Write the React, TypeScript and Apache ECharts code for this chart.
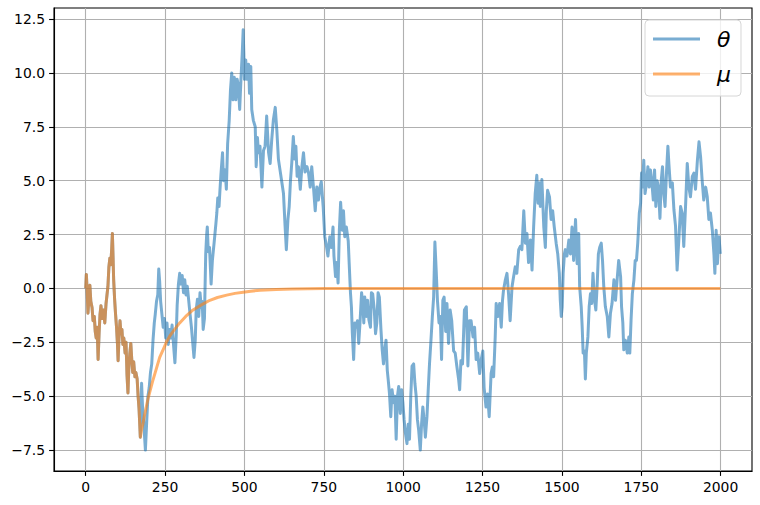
import React, { useEffect, useRef } from "react";
import * as echarts from "echarts";

// θ samples (x = step, y = value)
const thetaX = [
  0, 2, 5, 7, 10, 13, 16, 20, 23, 27, 30, 33, 36, 39, 42, 45, 48, 52, 56, 60, 64, 67, 70, 73, 76, 79, 82, 84, 86, 88, 91, 94, 97, 100, 102, 105, 108, 111, 114, 117, 120, 124, 127, 130, 133, 136, 139, 142, 145, 148, 151, 155, 158, 162, 165, 168, 172,
  176, 179, 183, 188, 192, 196, 200, 204, 208, 212, 216, 219, 223, 227, 230, 233, 236, 240, 244, 248, 252, 256, 260, 264, 268, 272, 276, 281, 285, 288, 292, 296, 300, 304, 308, 312, 316, 320, 324, 328, 333, 337, 341, 345, 348, 352, 356, 360, 364, 367, 370, 374,
  378, 381, 383, 386, 390, 395, 399, 405, 410, 413, 416, 420, 423, 426, 431, 434, 439, 443, 447, 452, 456, 460, 464, 468, 473, 477, 481, 485, 489, 493, 496, 498, 500, 504, 508, 513, 516, 520, 523, 528, 534, 537, 541, 544, 549, 555, 560, 565, 570, 576, 581, 586, 591, 597, 602, 607, 612, 618, 623, 628, 632, 637, 641, 645, 649, 654, 658, 662, 666, 670, 676, 681, 686, 691, 697, 702, 707, 712, 718, 723, 728, 733, 738,
  742, 748, 753, 758, 763, 769, 774, 779, 782, 787, 791, 795, 799, 803, 808, 812, 816, 821, 827, 830, 834, 837, 840, 844, 848, 852, 856, 860, 864, 869, 873, 876, 879, 884, 888, 892, 897, 900, 904, 909, 913, 917, 921, 925, 930, 934, 938, 942, 946, 950, 953, 957, 961, 965, 970, 974, 978, 982, 986, 991, 995, 999,
  1003, 1007, 1012, 1016, 1020, 1024, 1028, 1033, 1037, 1041, 1045, 1049, 1054, 1058, 1062, 1066, 1070, 1075, 1079, 1083, 1087, 1092, 1096, 1100, 1104, 1108, 1113, 1117, 1121, 1125, 1129, 1134, 1138, 1143, 1148, 1153, 1159, 1164, 1169, 1175, 1178, 1182, 1187, 1193, 1199, 1204, 1209, 1214, 1220, 1225, 1230, 1235, 1241, 1246,
  1251, 1255, 1261, 1266, 1271, 1277, 1281, 1285, 1290, 1293, 1298, 1304, 1309, 1313, 1316, 1322, 1327, 1332, 1337, 1343, 1348, 1353, 1358, 1364, 1369, 1374, 1380, 1385, 1390, 1395, 1401, 1406, 1411, 1416, 1421, 1425, 1429, 1432, 1437, 1443, 1448, 1451, 1455, 1461, 1466, 1471, 1476, 1482, 1487, 1492, 1495, 1498,
  1501, 1504, 1508, 1511, 1516, 1522, 1527, 1532, 1537, 1543, 1548, 1553, 1556, 1561, 1564, 1567, 1571, 1574, 1577, 1582, 1586, 1590, 1594, 1598, 1603, 1607, 1611, 1615, 1619, 1624, 1628, 1632, 1637, 1643, 1648, 1653, 1658, 1664, 1669, 1674, 1679, 1685, 1688, 1692, 1695, 1700, 1706, 1711, 1714, 1718, 1722, 1727, 1731, 1735, 1739, 1744, 1748,
  1751, 1754, 1758, 1762, 1767, 1771, 1775, 1779, 1783, 1788, 1792, 1796, 1800, 1804, 1809, 1813, 1817, 1821, 1825, 1830, 1834, 1837, 1842, 1848, 1853, 1858, 1863, 1869, 1874, 1879, 1884, 1890, 1895, 1900, 1905, 1911, 1916, 1921, 1927, 1932, 1937, 1942, 1947, 1953, 1958, 1963, 1968, 1974, 1979, 1982, 1986, 1990, 1995, 1999,
];
const thetaY = [
  0.0, 0.65, -0.3, -1.15, -0.5, 0.15, -0.6, -0.9, -1.5, -1.3, -2.0, -2.3, -1.8, -3.3, -2.1, -1.2, -0.8, -1.4, -1.0, -1.6, -0.7, -0.3, 0.1, 1.0, 1.4, 1.1, 1.9, 2.55, 1.5, 0.4, -0.5, -1.2, -1.8, -2.6, -3.35, -2.2, -1.5, -2.1, -1.9, -2.6, -2.3, -3.0, -2.5, -4.0, -4.85, -3.6, -3.0, -2.55, -3.3, -3.9, -3.4, -4.1, -3.9, -4.2, -5.0, -5.6, -6.9,
  -4.4, -5.5, -6.3, -7.5, -6.2, -5.0, -4.6, -3.9, -3.5, -2.4, -1.6, -1.2, -0.6, -0.3, 0.9, 0.3, -0.6, -1.2, -1.8, -1.4, -2.3, -1.6, -2.6, -1.9, -2.3, -1.7, -2.5, -3.45, -2.2, -0.8, 0.2, 0.7, 0.2, 0.6, -0.2, 0.4, -0.3, 0.1, -0.5, -1.1, -1.8, -2.5, -3.2, -2.4, -1.0, -0.5, -1.3, -0.2, -0.9, -0.6, -1.9, -1.4,
  1.6, 2.5, 2.85, 1.7, 1.9, 0.2, 1.3, 2.2, 3.0, 3.5, 4.2, 3.8, 4.6, 5.3, 6.3, 5.0, 5.5, 4.6, 6.7, 7.8, 9.2, 10.0, 8.75, 9.8, 8.75, 9.7, 9.4, 8.3, 9.7, 10.9, 12.0, 10.9, 9.7, 10.6, 9.7, 10.4, 9.05, 10.3, 8.3, 7.8, 7.5, 5.65, 7.0, 6.3, 6.6, 4.7, 6.4, 6.6, 8.0, 6.3, 5.8, 6.9, 7.8, 8.4, 7.35, 6.0, 5.5, 4.9, 4.4, 2.9, 1.8, 3.2, 3.8, 5.0, 5.8, 7.05, 6.0, 6.6, 5.2, 5.65, 4.6, 5.65, 6.3, 5.4, 5.65, 5.35, 4.7, 5.65, 4.6, 3.6, 4.7, 4.1, 4.7,
  4.95, 3.8, 2.4, 2.0, 1.5, 2.4, 1.9, 2.85, 1.5, 0.55, 1.2, 0.25, 2.7, 4.0, 2.7, 3.6, 2.4, 2.85, 2.2, 1.15, -0.2, -0.85, -2.1, -3.3, -1.6, -1.8, -1.5, -2.55, -1.6, -0.2, -0.7, -1.6, -0.4, -1.3, -0.55, -1.45, -1.8, -0.2, -0.25, -1.0, -2.1, -1.6, -0.2, -0.4, -1.9, -2.85, -3.5, -2.85, -2.4, -3.8, -4.25, -4.9, -5.95, -4.7, -5.3, -5.0, -7.0, -5.0, -4.55, -5.8, -4.7, -5.3,
  -6.1, -6.7, -7.2, -6.3, -7.0, -5.0, -3.6, -3.5, -4.4, -5.0, -6.1, -6.6, -7.5, -6.3, -5.5, -6.1, -6.9, -5.95, -4.7, -3.5, -2.55, -1.3, -0.4, 2.15, 0.85, -0.55, -1.6, -1.3, -3.3, -0.55, -0.4, -2.0, -0.7, -2.55, -1.0, -1.5, -2.9, -3.0, -3.6, -4.25, -4.7, -3.35, -3.5, -1.0, -0.85, -3.6, -1.5, -1.5, -2.25, -1.8, -3.3, -3.0, -3.95, -3.3,
  -2.9, -4.6, -5.5, -4.9, -5.95, -3.95, -3.65, -4.1, -2.25, -0.7, -1.3, -0.7, -1.8, -0.55, -0.1, 0.4, 0.7, -0.25, -1.5, 0.08, 0.55, 1.0, 0.7, 1.8, 1.95, 1.8, 3.6, 2.1, 2.55, 1.2, 2.25, 0.85, 2.85, 4.4, 5.25, 3.95, 4.9, 3.8, 5.05, 2.85, 1.9, 3.6, 4.55, 4.25, 3.2, 3.6, 2.85, 2.1, 1.6, 0.7, -0.55, -1.3,
  -0.85, 0.7, 1.6, 1.8, 1.5, 2.25, 1.6, 2.85, 1.3, 3.2, 1.15, 2.55, 0.08, -0.85, -1.8, -3.0, -2.9, -4.2, -3.0, -2.25, -0.85, -0.25, -0.7, 0.7, -0.55, -1.0, 0.08, 1.6, 1.9, 2.1, 1.3, 0.08, -0.85, -1.3, -2.25, -1.15, -0.7, 0.4, -0.55, 0.4, 1.3, 0.55, -0.85, -1.6, -2.85, -2.4, -3.0, -2.25, -3.0, -1.45, -0.25, 0.4, 1.3, 1.3, 2.1, 3.5, 3.95,
  5.35, 4.7, 5.95, 4.4, 4.9, 5.65, 4.7, 5.5, 5.0, 4.1, 5.5, 3.8, 5.0, 4.7, 3.25, 5.0, 5.65, 4.4, 3.8, 5.5, 6.6, 5.8, 4.7, 4.9, 3.65, 2.9, 0.85, 2.4, 3.8, 3.5, 1.95, 3.95, 5.8, 4.7, 4.25, 5.2, 5.35, 4.6, 5.95, 6.8, 6.1, 5.0, 4.1, 4.7, 4.25, 3.2, 3.5, 2.7, 1.6, 0.7, 2.7, 1.15, 2.4, 1.6,
];

// μ follows θ up to this step, then relaxes towards zero
const muSplit = 172;
const muTailX = [176, 180, 185, 190, 195, 200, 210, 220, 233, 245, 254, 265, 280, 296, 315, 338, 360, 391, 415, 444, 470, 496, 520, 549, 600, 650, 700, 750, 800, 900, 1000, 1999];
const muTailY = [-6.55, -6.3, -5.9, -5.55, -5.2, -4.9, -4.35, -3.85, -3.2, -2.8, -2.5, -2.2, -1.9, -1.6, -1.3, -1.0, -0.8, -0.55, -0.42, -0.31, -0.23, -0.18, -0.13, -0.08, -0.05, -0.03, -0.015, -0.008, -0.004, -0.001, 0, 0];

const xTicks = [0, 250, 500, 750, 1000, 1250, 1500, 1750, 2000];
const yTicks = [-7.5, -5.0, -2.5, 0.0, 2.5, 5.0, 7.5, 10.0, 12.5];
const seriesNames = ["θ", "μ"];

export default function App() {
  const ref = useRef<HTMLDivElement>(null);

  useEffect(() => {
    if (!ref.current) return;
    const chart = echarts.init(ref.current, undefined, { renderer: "svg" });

    const thetaData = thetaX.map((x, i) => [x, thetaY[i]]);
    const muData = thetaData
      .filter((p) => p[0] <= muSplit)
      .concat(muTailX.map((x, i) => [x, muTailY[i]]));

    const tickFont = { fontFamily: "DejaVu Sans", fontSize: 13.9, color: "#000" };

    chart.setOption({
      animation: false,
      backgroundColor: "#fff",
      grid: {
        left: 54,
        right: 8,
        top: 8,
        bottom: 34,
        show: true,
        borderColor: "#000",
        borderWidth: 1.1,
        backgroundColor: "transparent",
      },
      legend: {
        orient: "vertical",
        left: 645,
        top: 20,
        padding: [7, 10, 10, 8],
        itemGap: 11,
        itemWidth: 47,
        itemHeight: 3,
        icon: "rect",
        backgroundColor: "rgba(255,255,255,0.8)",
        borderColor: "#d6d6d6",
        borderWidth: 1,
        borderRadius: 4,
        data: seriesNames,
        textStyle: {
          fontFamily: "DejaVu Sans",
          fontStyle: "italic",
          fontSize: 22,
          lineHeight: 24,
          color: "#000",
          padding: [0, 0, 0, 12],
        },
      },
      xAxis: {
        type: "value",
        min: -99.95,
        max: 2098.95,
        axisLine: { show: true, onZero: false, lineStyle: { color: "#000", width: 1.1 } },
        axisTick: { show: true, length: 4.9, lineStyle: { color: "#000", width: 1.1 }, customValues: xTicks },
        axisLabel: { ...tickFont, margin: 9, customValues: xTicks, formatter: (v: number) => String(Math.round(v)) },
        splitLine: { show: true, lineStyle: { color: "#b0b0b0", width: 1.1 } },
      },
      yAxis: {
        type: "value",
        min: -8.47,
        max: 13.01,
        axisLine: { show: true, onZero: false, lineStyle: { color: "#000", width: 1.1 } },
        axisTick: { show: true, length: 4.9, lineStyle: { color: "#000", width: 1.1 }, customValues: yTicks },
        axisLabel: {
          ...tickFont,
          margin: 9,
          customValues: yTicks,
          formatter: (v: number) => v.toFixed(1).replace("-", "\u2212"),
        },
        splitLine: { show: true, lineStyle: { color: "#b0b0b0", width: 1.1 } },
      },
      series: [
        {
          name: seriesNames[0],
          type: "line",
          data: thetaData,
          showSymbol: false,
          symbol: "none",
          color: "rgba(31,119,180,0.6)",
          lineStyle: { width: 3, color: "rgba(31,119,180,0.6)", join: "round" },
        },
        {
          name: seriesNames[1],
          type: "line",
          data: muData,
          showSymbol: false,
          symbol: "none",
          color: "rgba(255,127,14,0.6)",
          lineStyle: { width: 3, color: "rgba(255,127,14,0.6)", join: "round" },
        },
      ],
    });

    return () => chart.dispose();
  }, []);

  return (
    <div
      ref={ref}
      style={{ position: "fixed", left: 0, top: 0, width: 760, height: 505, background: "#fff" }}
    />
  );
}
